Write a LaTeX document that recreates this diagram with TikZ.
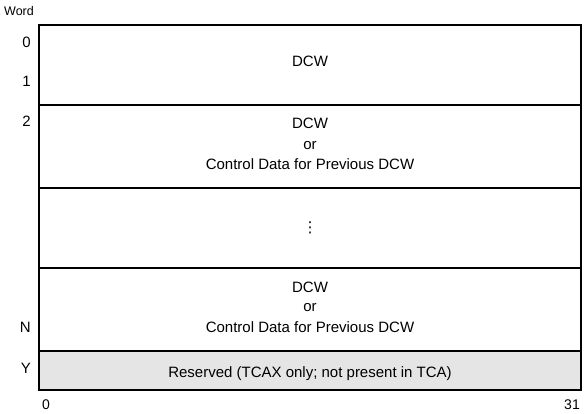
\documentclass[tikz,border=0pt]{standalone}
\usepackage{fontspec}
\setmainfont{Liberation Sans}
\newfontfamily\symfont{DejaVu Sans}
\definecolor{resgray}{HTML}{E5E5E5}
\tikzset{
  txt/.style={inner sep=0pt, anchor=base, font=\fontsize{15}{18}\selectfont},
  lbl/.style={inner sep=0pt, anchor=base east, font=\fontsize{15}{18}\selectfont},
  bit/.style={inner sep=0pt, anchor=base, font=\fontsize{14}{17}\selectfont},
  frame/.style={line width=2pt},
}
\begin{document}
\begin{tikzpicture}[x=1pt,y=-1pt]
\useasboundingbox (0,0) rectangle (584,414);
% reserved row fill
\fill[resgray] (39,351) rectangle (581,390);
% row separators
\coordinate (l1) at (39,105); \coordinate (r1) at (581,105);
\coordinate (l2) at (39,188); \coordinate (r2) at (581,188);
\coordinate (l3) at (39,268); \coordinate (r3) at (581,268);
\coordinate (l4) at (39,351); \coordinate (r4) at (581,351);
\draw[frame] (l1) -- (r1);
\draw[frame] (l2) -- (r2);
\draw[frame] (l3) -- (r3);
\draw[frame] (l4) -- (r4);
\draw[frame] (39,25) rectangle (581,390);
% header
\node[inner sep=0pt, anchor=base west, font=\fontsize{12.5}{15}\selectfont] (word) at (4,16) {Word};
% word labels
\node[lbl] (w0) at (31,48) {0};
\node[lbl] (w1) at (31,87) {1};
\node[lbl] (w2) at (31,127) {2};
\node[lbl] (wN) at (31,332) {N};
\node[lbl] (wY) at (31,373) {Y};
% row texts
\node[txt] (r1t) at (310,67) {DCW};
\node[txt] (r2a) at (310,129) {DCW};
\node[txt] (r2b) at (310,150) {or};
\node[txt] (r2c) at (310,170) {Control Data for Previous DCW};
\node[txt, font=\symfont\fontsize{15}{18}\selectfont] (r3t) at (310,233) {⋮};
\node[txt] (r4a) at (310,292) {DCW};
\node[txt] (r4b) at (310,312) {or};
\node[txt] (r4c) at (310,332) {Control Data for Previous DCW};
\node[txt] (r5t) at (310,377) {Reserved (TCAX only; not present in TCA)};
% bit labels
\node[bit, anchor=base west] (b0) at (42,409) {0};
\node[bit, anchor=base east] (b31) at (580,409) {31};
\end{tikzpicture}
\end{document}
